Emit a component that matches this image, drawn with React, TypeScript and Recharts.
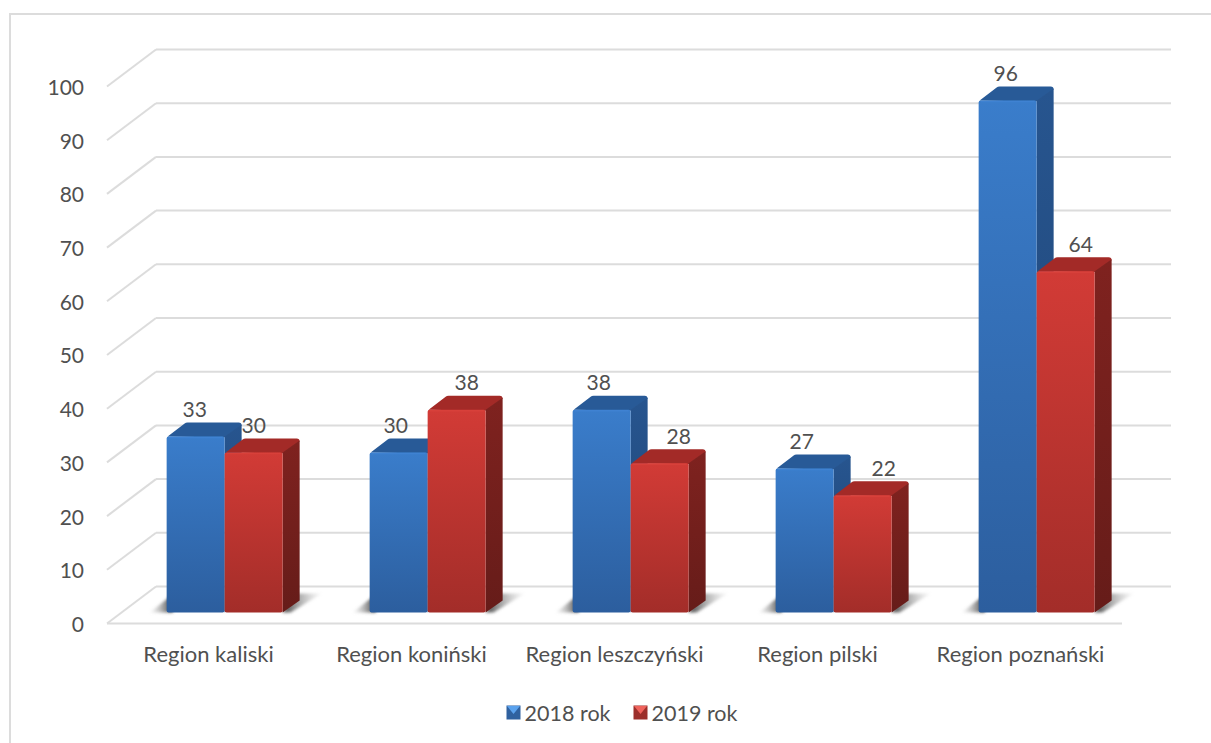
import React from 'react';
import {
  Bar,
  BarChart,
  CartesianGrid,
  LabelList,
  Legend,
  XAxis,
  YAxis,
} from 'recharts';

const regions = ['Region kaliski', 'Region koniński', 'Region leszczyński', 'Region pilski', 'Region poznański'];
const values2018 = [33, 30, 38, 27, 96];
const values2019 = [30, 38, 28, 22, 64];
const yTicks = [0, 10, 20, 30, 40, 50, 60, 70, 80, 90, 100];

const rows = regions.map((region, i) => ({
  region,
  y2018: values2018[i],
  y2019: values2019[i],
}));

// the labels were dragged by hand in the original, so each one gets its own nudge
const nudge2018 = [-1, -3, -3, -3, -2];
const nudge2019 = [0, 10, 19, 21, 15];

const FONT = 'Lato, "Open Sans", sans-serif';
const TEXT = '#505050';
const GRID = '#dcdcdc';

// fake 3D: how far the back wall and the bar tops sit from the front plane
const WALL_DX = 49;
const WALL_DY = -37;
const DEPTH_DX = 17;
const DEPTH_DY = -14;
const BAR_DX = 16;
const BAR_DY = -11;
const BAR_SCALE = 0.993;

const palettes = {
  blue: { front: 'url(#blueFront)', top: '#285a97', side: 'url(#blueSide)', edge: '#3f82d2' },
  red: { front: 'url(#redFront)', top: '#a32a27', side: 'url(#redSide)', edge: '#d8403a' },
};

function GridLine(props: any) {
  const { x1, x2, y1 } = props;
  return (
    <g>
      <line x1={x1} y1={y1} x2={x1 + WALL_DX} y2={y1 + WALL_DY} stroke={GRID} strokeWidth={2} />
      <line x1={x1 + WALL_DX} y1={y1 + WALL_DY} x2={x2 + WALL_DX} y2={y1 + WALL_DY} stroke={GRID} strokeWidth={2} />
    </g>
  );
}

function Cuboid(props: any) {
  const { x, y, width, height, tone, shadow } = props;
  const p = palettes[tone as 'blue' | 'red'];
  const h = height * BAR_SCALE;
  const left = x + BAR_DX;
  const right = left + width;
  const base = y + height + BAR_DY;
  const top = base - h;
  const dx = DEPTH_DX;
  const dy = DEPTH_DY;
  return (
    <g>
      {shadow === 'left' ? (
        <polygon
          points={`${left + 6},${base} ${left - 17},${base} ${left + 6},${base - 18}`}
          fill="url(#shadowFadeLeft)"
          filter="url(#floorBlur)"
        />
      ) : (
        <polygon
          points={`${right + dx - 4},${base - 19} ${right + dx + 22},${base - 19} ${right + 8},${base} ${right},${base}`}
          fill="url(#shadowFade)"
          filter="url(#floorBlur)"
        />
      )}
      <path
        d={`M${left + 1},${top} L${left + dx + 1},${top + dy + 1} Q${left + dx + 2},${top + dy} ${left + dx + 4},${top + dy} H${right + dx - 3} Q${right + dx},${top + dy} ${right + dx},${top + dy + 3} L${right},${top + 1} Z`}
        fill={p.top}
      />
      <path
        d={`M${right},${top} L${right + dx},${top + dy + 2} V${base + dy + 2} L${right},${base} Z`}
        fill={p.side}
      />
      <rect x={left} y={top} width={width} height={h} rx={2} fill={p.front} />
      <line x1={left + 2} y1={top + 1} x2={right - 2} y2={top + 1} stroke={p.edge} strokeWidth={1.5} />
    </g>
  );
}

function PointLabel(props: any) {
  const { x, y, width, height, value, index, nudge } = props;
  const h = height * BAR_SCALE;
  const top = y + height + BAR_DY - h;
  return (
    <text
      x={x + BAR_DX + width / 2 + nudge[index]}
      y={top - 28}
      textAnchor="middle"
      dominantBaseline="central"
      fontFamily={FONT}
      fontSize={21}
      fill={TEXT}
    >
      {value}
    </text>
  );
}

function LegendMarker({ tone }: { tone: string }) {
  const light = tone === 'blue' ? '#5aa2ee' : '#f0635c';
  const dark = tone === 'blue' ? '#2f619f' : '#9c2f2b';
  return (
    <svg width={15} height={15} style={{ marginRight: 4 }}>
      <rect x={0.5} y={0.5} width={14} height={14} fill={dark} />
      <polygon points="1,1 14,1 7.5,9" fill={light} />
    </svg>
  );
}

function ChartLegend() {
  const items = [
    { name: '2018 rok', tone: 'blue' },
    { name: '2019 rok', tone: 'red' },
  ];
  return (
    <div style={{ display: 'flex', justifyContent: 'center', alignItems: 'center', gap: 22, paddingLeft: 121, paddingTop: 16 }}>
      {items.map((item) => (
        <span
          key={item.name}
          style={{ display: 'inline-flex', alignItems: 'center', fontFamily: FONT, fontSize: 21.5, color: TEXT }}
        >
          <LegendMarker tone={item.tone} />
          {item.name}
        </span>
      ))}
    </div>
  );
}

export default function App() {
  return (
    <div style={{ position: 'absolute', left: 0, top: 0, width: 1211, height: 743, background: '#fff', overflow: 'hidden' }}>
      <div
        style={{
          position: 'absolute',
          left: 9,
          top: 13,
          width: 1210,
          height: 740,
          borderLeft: `2px solid ${GRID}`,
          borderTop: `2px solid ${GRID}`,
        }}
      />
      <div style={{ position: 'absolute', left: 0, top: 0 }}>
        <BarChart
          width={1211}
          height={743}
          data={rows}
          margin={{ top: 86.5, right: 89, bottom: 15, left: 0 }}
          barCategoryGap="21.5%"
          barGap={0}
        >
          <defs>
            <linearGradient id="blueFront" x1="0" x2="0" y1="0" y2="1">
              <stop offset="0%" stopColor="#3a7dcb" />
              <stop offset="100%" stopColor="#2c5e9e" />
            </linearGradient>
            <linearGradient id="blueSide" x1="0" x2="0" y1="0" y2="1">
              <stop offset="0%" stopColor="#27558f" />
              <stop offset="100%" stopColor="#1f4474" />
            </linearGradient>
            <linearGradient id="redFront" x1="0" x2="0" y1="0" y2="1">
              <stop offset="0%" stopColor="#d23b36" />
              <stop offset="100%" stopColor="#a32d29" />
            </linearGradient>
            <linearGradient id="redSide" x1="0" x2="0" y1="0" y2="1">
              <stop offset="0%" stopColor="#7f221f" />
              <stop offset="100%" stopColor="#661c19" />
            </linearGradient>
            <linearGradient id="shadowFade" x1="0" x2="1" y1="0" y2="0">
              <stop offset="0%" stopColor="#444" />
              <stop offset="100%" stopColor="#bbb" stopOpacity={0.1} />
            </linearGradient>
            <linearGradient id="shadowFadeLeft" x1="1" x2="0" y1="0" y2="0">
              <stop offset="0%" stopColor="#333" />
              <stop offset="100%" stopColor="#bbb" stopOpacity={0.1} />
            </linearGradient>
            <filter id="floorBlur" x="-30%" y="-30%" width="160%" height="160%">
              <feGaussianBlur stdDeviation="1.5" />
            </filter>
          </defs>
          <CartesianGrid horizontal={(p: any) => <GridLine key={p.key} {...p} />} vertical={false} />
          <XAxis
            dataKey="region"
            height={60}
            tickLine={false}
            axisLine={{ stroke: GRID, strokeWidth: 2 }}
            tick={{ fill: TEXT, fontSize: 22, fontFamily: FONT }}
            tickMargin={17}
            interval={0}
          />
          <YAxis
            domain={[0, 100]}
            ticks={yTicks}
            width={107}
            axisLine={false}
            tickLine={false}
            tick={{ fill: TEXT, fontSize: 21, fontFamily: FONT, dy: 1 }}
            tickMargin={17}
          />
          <Legend verticalAlign="bottom" height={44.5} content={<ChartLegend />} />
          <Bar
            dataKey="y2018"
            name="2018 rok"
            isAnimationActive={false}
            shape={(p: any) => <Cuboid {...p} tone="blue" shadow="left" />}
          >
            <LabelList dataKey="y2018" content={(p: any) => <PointLabel {...p} nudge={nudge2018} />} />
          </Bar>
          <Bar
            dataKey="y2019"
            name="2019 rok"
            isAnimationActive={false}
            shape={(p: any) => <Cuboid {...p} tone="red" shadow="right" />}
          >
            <LabelList dataKey="y2019" content={(p: any) => <PointLabel {...p} nudge={nudge2019} />} />
          </Bar>
        </BarChart>
      </div>
    </div>
  );
}
